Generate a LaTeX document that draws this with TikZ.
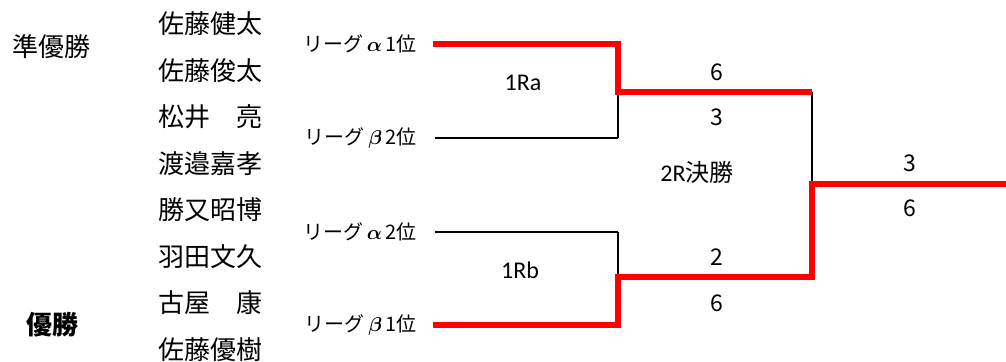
\documentclass[tikz,border=0pt]{standalone}
\usepackage{amsmath}
\usepackage{fontspec}
\setmainfont{Noto Sans CJK JP}
\newfontfamily\latinfont{Carlito}
\usetikzlibrary{positioning}

\tikzset{
  player/.style={font=\fontsize{13}{15}\selectfont},
  league/.style={anchor=east, font=\fontsize{10}{12}\selectfont},
  score/.style={font=\fontsize{11.5}{13}\selectfont},
  roundlbl/.style={font=\fontsize{12}{14}\selectfont},
  win/.style={draw=red, line width=2.6pt, line join=miter},
  lose/.style={draw=black, line width=1.3pt},
  tie/.style={draw=black, line width=0.8pt},
}

\begin{document}
\begin{tikzpicture}[x=0.5pt,y=-0.5pt, every node/.style={inner sep=0pt}]
        \useasboundingbox (0,0) rectangle (1006,361);
        % players
        \foreach \n [count=\i] in {佐藤健太,佐藤俊太,松井　亮,渡邉嘉孝,勝又昭博,羽田文久,古屋　康,佐藤優樹}
        \node[player] (p\i) at (210,{24+46.5*(\i-1)}) {\n};
        \node[player] (second) at (51,47) {準優勝};
        \node[player, font=\fontsize{13}{15}\selectfont\bfseries] (champ) at (52,325) {優勝};
        % league places
        \node[league] (la1) at (417,44) {リーグ\,$\boldsymbol{\alpha}$\,1位};
        \node[league] (lb2) at (417,138) {リーグ\,$\boldsymbol{\beta}$\,2位};
        \node[league] (la2) at (417,232) {リーグ\,$\boldsymbol{\alpha}$\,2位};
        \node[league] (lb1) at (417,325) {リーグ\,$\boldsymbol{\beta}$\,1位};
        % match points
        \coordinate (m1) at (618,92);
        \coordinate (m2) at (618,277);
        \coordinate (f) at (812,184);
        \coordinate (w) at (1006,184);
        % bracket
        \draw[lose] ([xshift=9pt]lb2.east) -- (lb2.east -| m1);
        \draw[tie] (lb2.east -| m1) -- (m1);
        \draw[lose] ([xshift=9pt]la2.east) -- (la2.east -| m2);
        \draw[tie] (la2.east -| m2) -- (m2);
        \draw[tie] (m1 -| f) -- (f);
        \draw[win] ([xshift=8pt]la1.east) -| (m1) -- (m1 -| f);
        \draw[win] ([xshift=8pt]lb1.east) -| (m2) -| (f) -- (w);
        % round names
        \node[roundlbl, font=\latinfont\fontsize{12}{14}\selectfont] (ra) at (523,83) {1Ra};
        \node[roundlbl, font=\latinfont\fontsize{12}{14}\selectfont] (rb) at (520,270) {1Rb};
        \node[roundlbl] (rf) at (697,172) {{\latinfont 2R}決勝};
        % scores
        \node[score] (s1) at (717,72) {6};
        \node[score] (s2) at (717,117) {3};
        \node[score] (s3) at (717,257) {2};
        \node[score] (s4) at (717,303) {6};
        \node[score] (s5) at (910,163) {3};
        \node[score] (s6) at (910,208) {6};
\end{tikzpicture}
\end{document}
